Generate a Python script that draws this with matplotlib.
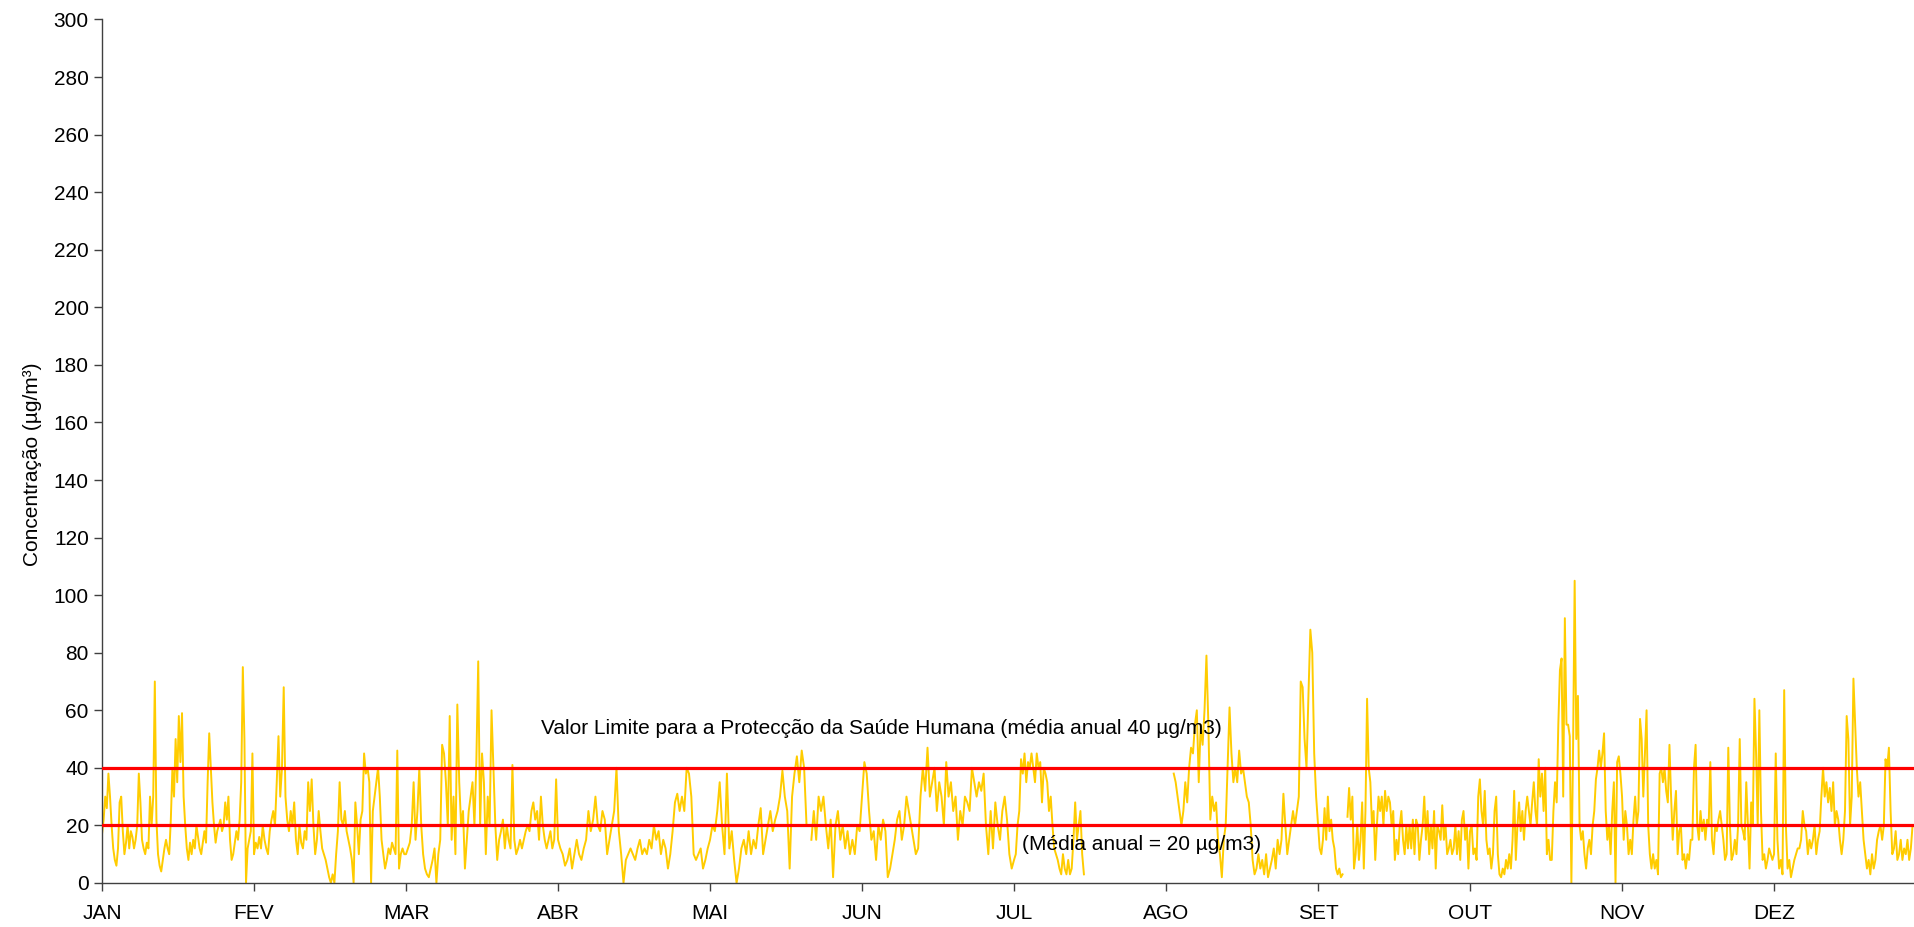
import numpy as np
import matplotlib
matplotlib.use("Agg")
import matplotlib.pyplot as plt

plt.rcParams['font.family'] = ['Liberation Sans', 'DejaVu Sans']

# month labels on the x axis (one tick every 730 h)
months = ['JAN', 'FEV', 'MAR', 'ABR', 'MAI', 'JUN',
          'JUL', 'AGO', 'SET', 'OUT', 'NOV', 'DEZ']
nan = np.nan

# concentration values, roughly every 8 hours, per month
jan = [17, 22, 30, 26, 38, 30, 20, 12, 8, 6, 12, 28, 30, 18, 10, 14, 20, 12, 18, 16,
       12, 15, 20, 38, 28, 15, 12, 10, 14, 12, 30, 20, 30, 70, 22, 10, 6, 4, 8, 12,
       15, 12, 10, 22, 40, 30, 50, 35, 58, 42, 59, 30, 20, 12, 8, 14, 10, 15, 12, 20,
       16, 12, 10, 14, 18, 14, 35, 52, 40, 28, 20, 14, 18, 20, 22, 18, 20, 28, 22, 30,
       15, 8, 10, 14, 18, 15, 22, 35, 75, 50, 0, 12, 15, 18, 45]
fev = [10, 14, 12, 16, 12, 20, 15, 12, 10, 18, 22, 25, 20, 35, 51, 30, 40, 68, 30, 22,
       18, 25, 20, 28, 15, 10, 20, 14, 12, 18, 15, 35, 25, 36, 20, 10, 15, 25, 18, 12,
       10, 8, 5, 2, 0, 3, 0, 10, 18, 35, 22, 20, 25, 18, 15, 12, 8, 0, 28, 20,
       10, 22, 25, 45, 38, 40, 35, 0, 25, 30, 35, 40, 30, 15, 10, 5, 8, 12, 10, 14,
       12, 10, 46, 5, 10, 12, 10]
mar = [10, 12, 14, 20, 35, 15, 25, 40, 20, 10, 5, 3, 2, 5, 8, 12, 0, 10, 15, 48,
       45, 35, 20, 58, 15, 30, 10, 62, 35, 20, 25, 5, 15, 25, 30, 35, 20, 42, 77, 20,
       45, 35, 10, 30, 20, 60, 40, 20, 8, 15, 18, 22, 12, 20, 15, 12, 41, 15, 10, 12,
       15, 12, 15, 18, 20, 18, 25, 28, 22, 25, 15, 30, 20, 15, 12, 15, 18, 12, 15, 36]
abr = [15, 12, 10, 6, 8, 12, 5, 10, 15, 10, 8, 12, 15, 25, 18, 22, 30, 20, 18, 25,
       22, 10, 15, 20, 25, 40, 18, 10, 0, 8, 10, 12, 10, 8, 12, 15, 10, 12, 10, 15,
       12, 20, 15, 18, 10, 15, 12, 5, 10, 18, 28, 31, 25, 30, 25, 40, 38, 30, 10, 8,
       10, 12, 5, 8, 12]
mai = [15, 20, 18, 25, 35, 20, 10, 38, 12, 18, 8, 0, 5, 12, 15, 10, 18, 10, 15, 12,
       20, 26, 10, 15, 20, 25, 18, 22, 25, 30, 39, 30, 25, 5, 30, 38, 44, 35, 46, 40,
       20, nan, 15, 25, 15, 30, 25, 30, 20, 12, 22, 2, 20, 25, 15, 20, 12, 18, 10, 15,
       10, 20, 18]
jun = [30, 42, 38, 25, 15, 18, 8, 20, 15, 22, 18, 2, 5, 10, 15, 22, 25, 15, 20, 30,
       25, 20, 15, 10, 12, 30, 40, 32, 47, 30, 35, 40, 25, 35, 30, 20, 42, 30, 35, 25,
       30, 15, 25, 20, 30, 28, 25, 40, 35, 30, 35, 32, 38, 20, 10, 25, 12, 28, 20, 15,
       25, 30, 22, 10, 5]
# no measurements from mid July to early August
jul = [8, 10, 20, 25, 43, 38, 45, 35, 42, 40, 45, 40, 35, 45, 40, 42, 28, 40, 38, 35,
       25, 30, 20, 12, 10, 8, 5, 3, 10, 5, 3, 8, 3, 5, 15, 28, 15, 20, 25, 10,
       3] + [nan] * 46
ago = [nan] * 4 + [
       38, 35, 30, 25, 20, 25, 35, 28, 40, 47, 45, 55, 60, 35, 55, 48, 60, 79, 55, 22,
       30, 25, 28, 15, 10, 2, 15, 20, 40, 61, 45, 35, 40, 35, 46, 38, 40, 35, 30, 28,
       20, 8, 3, 5, 10, 5, 8, 3, 10, 2, 5, 8, 12, 5, 15, 10, 15, 31, 20, 10,
       15, 20, 25, 20, 25, 30, 70, 68, 50, 40, 65, 88, 80, 45, 30]
set_ = [20, 12, 10, 15, 26, 15, 30, 18, 22, 15, 12, 5, 3, 5, 2, 3, nan, nan, 23, 33,
        22, 30, 5, 10, 20, 8, 15, 28, 5, 25, 64, 40, 35, 20, 25, 8, 20, 30, 25, 30,
        20, 32, 25, 30, 28, 20, 25, 8, 15, 10, 20, 25, 15, 10, 20, 12, 20, 12, 22, 10,
        22, 20, 8, 15, 20, 30, 15, 25, 10, 20, 12, 25, 5, 20, 18, 15, 27, 15, 20, 10,
        12, 15, 10, 12, 20, 10, 18, 8, 22, 25, 15, 20, 5]
out = [18, 20, 10, 12, 8, 30, 36, 25, 20, 32, 15, 10, 12, 5, 10, 25, 30, 10, 3, 2,
       5, 3, 8, 5, 10, 5, 15, 32, 8, 20, 28, 18, 25, 15, 25, 30, 25, 20, 28, 35,
       25, 20, 43, 30, 38, 25, 40, 10, 15, 8, 8, 25, 35, 28, 55, 74, 78, 30, 92, 55,
       55, 51, 0, 45, 105, 50, 65, 20, 15, 18, 10, 5, 12, 15, 10, 20, 25, 36, 40, 46,
       40, 45, 52, 25, 15, 20, 10, 25, 35, 0, 42, 44, 38]
nov = [30, 15, 25, 20, 10, 15, 10, 22, 30, 20, 25, 57, 50, 30, 45, 60, 20, 10, 5, 10,
       5, 8, 3, 38, 40, 35, 40, 32, 28, 48, 30, 15, 25, 32, 10, 18, 20, 8, 10, 5,
       10, 8, 15, 15, 40, 48, 20, 15, 25, 18, 22, 15, 22, 20, 42, 15, 10, 20, 18, 22,
       25, 20, 15, 8, 10, 47, 20, 8, 10, 15, 10, 20, 50, 20, 18, 15, 35, 20, 5, 28,
       20, 64, 45, 20, 60, 25, 8, 10, 5, 8, 12, 10, 8]
# the end of December is cut off in the original image
dez = [10, 45, 15, 5, 8, 3, 67, 20, 5, 8, 2, 5, 8, 10, 12, 12, 15, 25, 20, 18,
       10, 15, 12, 15, 20, 10, 15, 18, 30, 40, 30, 35, 28, 33, 25, 35, 20, 25, 22, 15,
       10, 15, 25, 58, 50, 20, 30, 71, 55, 40, 30, 35, 25, 15, 10, 5, 8, 3, 10, 5,
       8, 15, 18, 20, 15, 20, 43, 40, 47, 25, 10, 12, 18, 8, 10, 15, 8, 12, 10, 15,
       8, 12, 20] + [nan] * 7

series = [jan, fev, mar, abr, mai, jun, jul, ago, set_, out, nov, dez]

limit_value = 40   # valor limite (media anual)
annual_mean = 20   # media anual medida

# build the hourly axis: each month spans 730 h
month_hours = 730
x, y = [], []
for m, vals in enumerate(series):
    n = len(vals)
    x.extend(m * month_hours + np.arange(n) * month_hours / n)
    y.extend(vals)
x = np.array(x)
y = np.array(y, dtype=float)

fig = plt.figure(figsize=(19.14, 9.27), dpi=100)
ax = fig.add_axes([0.0533, 0.0475, 0.953, 0.9315])

ax.plot(x, y, color='#FFCC00', linewidth=1.4, zorder=2)
ax.axhline(limit_value, color='#FF0000', linewidth=2.3, zorder=3)
ax.axhline(annual_mean, color='#FF0000', linewidth=2.3, zorder=3)

ax.text(2108, 53.5, 'Valor Limite para a Protecção da Saúde Humana (média anual 40 µg/m3)',
        fontsize=15, va='center', ha='left')
ax.text(4417, 13.2, '(Média anual = 20 µg/m3)', fontsize=15, va='center', ha='left')

ax.set_xlim(0, 12 * month_hours)
ax.set_ylim(0, 300)
ax.set_yticks(np.arange(0, 301, 20))
ax.set_xticks(np.arange(12) * month_hours)
ax.set_xticklabels(months)
ax.tick_params(axis='both', labelsize=15, length=6, width=1, color='#404040')
ax.tick_params(axis='x', pad=9)
ax.set_ylabel('Concentração (µg/m³)', fontsize=15)
ax.yaxis.set_label_coords(-0.033, 0.485)

for side in ['top', 'right']:
    ax.spines[side].set_visible(False)
for side in ['left', 'bottom']:
    ax.spines[side].set_color('#404040')
    ax.spines[side].set_linewidth(1)

fig.savefig('out.png', dpi=100)
